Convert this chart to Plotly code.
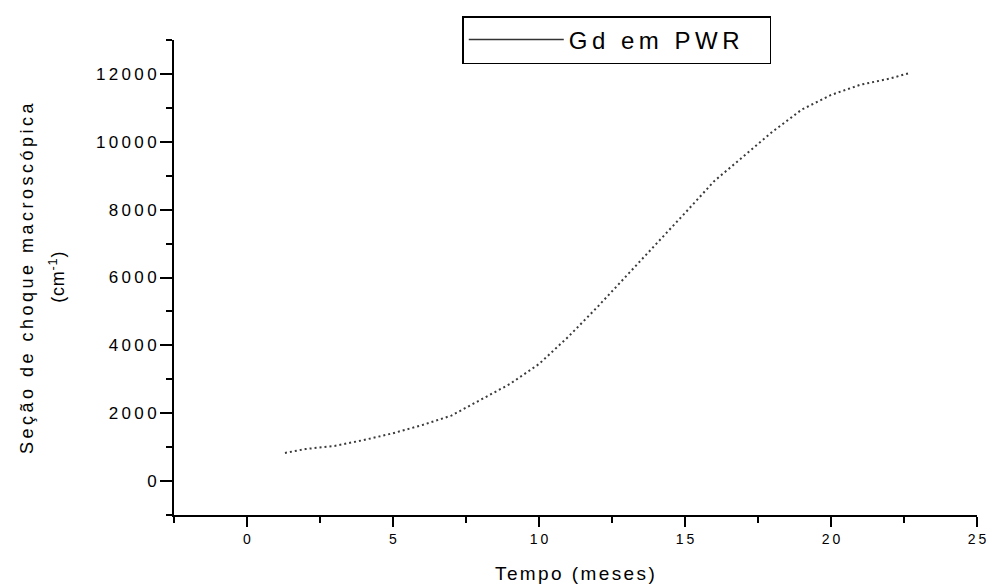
import plotly.graph_objects as go

# Data
months = [1.3, 2, 3, 4, 5, 6, 7, 8, 9, 10, 11, 12, 13, 14, 15, 16, 17, 18, 19, 20, 21, 22, 22.7]
sigma = [830, 944, 1035, 1210, 1410, 1650, 1930, 2390, 2860, 3450, 4250, 5130, 6050, 6950, 7900, 8840,
         9560, 10300, 10950, 11380, 11680, 11860, 12030]

x_tickvals = [0, 5, 10, 15, 20, 25]
y_tickvals = [0, 2000, 4000, 6000, 8000, 10000, 12000]
series_name = "Gd em PWR"
x_title = "Tempo (meses)"
y_title_1 = "Seção de choque macroscópica"
y_title_2 = "(cm<sup>-1</sup>)"

FONT = "Liberation Sans, Arial, sans-serif"


def spaced(t, s):
    return f'<span style="letter-spacing:{s}px">{t}</span>'


def spaced_tight(t, s):
    # letter-spacing without trailing space after the last character
    if len(t) < 2:
        return t
    return spaced(t[:-1], s) + t[-1]


fig = go.Figure()
fig.add_trace(go.Scatter(
    x=months, y=sigma, mode="lines", showlegend=False,
    line=dict(color="#3a3a3a", width=2, dash="2px,3px"),
))
# legend entry (solid sample line as in the reference legend)
fig.add_trace(go.Scatter(
    x=[None], y=[None], mode="lines", name=spaced(series_name, 4.5) + "&nbsp;&nbsp;&nbsp;",
    line=dict(color="#333333", width=1.5),
))

fig.update_layout(
    width=989, height=585,
    margin=dict(l=174, r=12, t=40, b=70, autoexpand=False),
    paper_bgcolor="white", plot_bgcolor="white",
    font=dict(family=FONT, color="black"),
    legend=dict(
        x=0.359, y=1.0505, xanchor="left", yanchor="top",
        bordercolor="black", borderwidth=1.5, bgcolor="white",
        font=dict(size=24, family=FONT), itemwidth=95,
    ),
    xaxis=dict(
        range=[-2.5, 25], showgrid=False, zeroline=False, automargin=False,
        showline=True, linecolor="black", linewidth=2,
        ticks="outside", ticklen=10, tickwidth=2, tickcolor="black",
        tickvals=x_tickvals, ticktext=[spaced_tight(str(v), 3) for v in x_tickvals],
        tickfont=dict(size=14, family=FONT),
        minor=dict(ticks="outside", ticklen=6, tickwidth=1.5, tickcolor="black", dtick=2.5, tick0=0),
    ),
    yaxis=dict(
        range=[-1000, 13000], showgrid=False, zeroline=False, automargin=False,
        showline=True, linecolor="black", linewidth=2,
        ticks="outside", ticklen=12, tickwidth=2, tickcolor="black",
        tickvals=y_tickvals, ticktext=[spaced_tight(str(v), 3.3) for v in y_tickvals],
        tickfont=dict(size=17, family=FONT), ticklabelstandoff=0,
        minor=dict(ticks="outside", ticklen=6, tickwidth=1.5, tickcolor="black", dtick=1000, tick0=0),
    ),
    annotations=[
        dict(text=spaced(x_title, 2.4), xref="paper", yref="paper", x=0.5, y=-0.124,
             xanchor="center", yanchor="middle", showarrow=False, font=dict(size=19, family=FONT)),
        dict(text=spaced(y_title_1, 3.5), xref="paper", yref="paper", x=-0.1830, y=0.501,
             xanchor="center", yanchor="middle", textangle=-90, showarrow=False,
             font=dict(size=18, family=FONT)),
        dict(text=spaced(y_title_2, 0.8), xref="paper", yref="paper", x=-0.146, y=0.501,
             xanchor="center", yanchor="middle", textangle=-90, showarrow=False,
             font=dict(size=18, family=FONT)),
    ],
)

fig.write_html(
    "out.html",
    config={"displayModeBar": False},
    post_script="document.body.style.margin='0';document.body.style.overflow='hidden';",
)
